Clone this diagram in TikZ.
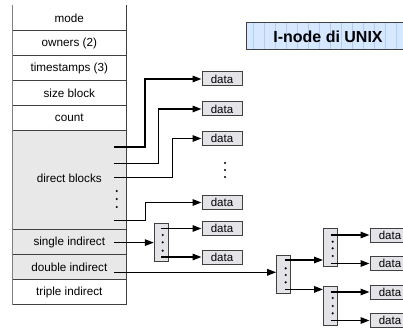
\documentclass[tikz,border=0pt]{standalone}
\usepackage{fontspec}
\setmainfont{Liberation Sans}
\usetikzlibrary{arrows.meta}
\definecolor{cellgray}{HTML}{E8E8E8}
\definecolor{datafill}{HTML}{E4E3E8}
\definecolor{titlefill}{HTML}{D6E8FF}
\definecolor{gridblue}{HTML}{B0CFF2}
\definecolor{edge}{HTML}{404040}
\begin{document}
\begin{tikzpicture}[x=1pt,y=-1pt,
  ptr/.style={line width=1.4pt,-{Triangle[length=9pt,width=6.5pt]}},
  rowline/.style={edge,line width=0.9pt},
  celltext/.style={font=\fontsize{11.7}{13}\selectfont,inner sep=0pt},
  databox/.style={draw=edge,line width=1pt,fill=datafill,minimum width=40pt,minimum height=14pt,inner sep=0pt,font=\fontsize{11.5}{13}\selectfont},
  ibox/.style={draw=edge,line width=1pt,fill=datafill,minimum width=14pt,inner sep=0pt},
  dot/.style={fill=black}]
\useasboundingbox (0,0) rectangle (403,328);
% title
\fill[titlefill] (246.7,22.7) rectangle (410,50);
\begin{scope}
\clip (246.7,22.7) rectangle (410,50);
\draw[gridblue,line width=0.5pt] (246.7,22.7) grid[step=11] (410,50);
\end{scope}
\draw[edge,line width=1pt] (246.7,22.7) rectangle (410,50);
\node[font=\bfseries\fontsize{16}{18}\selectfont,inner sep=0pt] (title) at (328,36.5) {I-node di UNIX};
% table
\fill[cellgray] (12.3,130.5) rectangle (126.3,279.5);
\foreach \yy in {30.5,55.5,80.5,105.5,130.5,229.5,254.5,279.5,304.5}
  \draw[rowline] (12.3,\yy) -- (126.3,\yy);
\draw[gray,line width=0.7pt] (12.3,5) -- (12.3,304.5);
\draw[edge,line width=1.2pt] (126.3,5) -- (126.3,304.5);
\node[celltext] (mode) at (69.3,18) {mode};
\node[celltext] (owners) at (69.3,43) {owners (2)};
\node[celltext] (times) at (69.3,68) {timestamps (3)};
\node[celltext] (size) at (69.3,93) {size block};
\node[celltext] (count) at (69.3,118) {count};
\node[celltext] (direct) at (69.3,178) {direct blocks};
\node[celltext] (single) at (69.3,242) {single indirect};
\node[celltext] (double) at (69.3,267) {double indirect};
\node[celltext] (triple) at (69.3,292) {triple indirect};
\foreach \yy in {191,199,207} \fill[dot] (116.7,\yy) circle (1.2);
% data boxes (direct)
\node[databox] (d1) at (222,79) {data};
\node[databox] (d2) at (222,109) {data};
\node[databox] (d3) at (222,138.5) {data};
\node[databox] (d4) at (222,202.5) {data};
\foreach \yy in {163,170,177} \fill[dot] (225,\yy) circle (1.2);
\coordinate (s1) at (114,147);
\coordinate (s2) at (114,163.3);
\coordinate (s3) at (114,177.3);
\coordinate (s4) at (114,220.7);
\coordinate (s5) at (114,242.6);
\coordinate (s6) at (114,272.3);
\draw[ptr] (s1) -- ++(31,0) |- (d1.west);
\draw[ptr] (s2) -- ++(44.3,0) |- (d2.west);
\draw[ptr] (s3) -- ++(58.7,0) |- (d3.west);
\draw[ptr] (s4) -- ++(31.7,0) |- (d4.west);
% single indirect
\node[ibox,minimum height=38pt] (i1) at (161.3,242.6) {};
\foreach \yy in {235,242.3,250.7} \fill[dot] (162.7,\yy) circle (1.2);
\node[databox] (d5) at (222,228.5) {data};
\node[databox] (d6) at (222,257) {data};
\draw[ptr] (s5) -- (s5 -| i1.west);
\draw[ptr] (d5.west -| i1) -- (d5.west);
\draw[ptr] (d6.west -| i1) -- (d6.west);
% double indirect
\node[ibox,minimum height=38pt] (i2) at (283.7,274.2) {};
\foreach \yy in {268.3,275,282.3} \fill[dot] (285.7,\yy) circle (1.2);
\draw[ptr] (s6) -- (s6 -| i2.west);
\node[ibox,minimum height=38.4pt] (i3) at (330.5,247.5) {};
\node[ibox,minimum height=39pt] (i4) at (330.5,305.5) {};
\foreach \yy in {241.7,248.3,256} \fill[dot] (332.7,\yy) circle (1.2);
\foreach \yy in {298,306,313.3} \fill[dot] (332.7,\yy) circle (1.2);
\coordinate (a1) at (285.2,260);
\coordinate (a2) at (285.2,289.4);
\draw[ptr] (a1) -- (a1 -| i3.west);
\draw[ptr] (a2) -- (a2 -| i4.west);
\node[databox] (d7) at (390,235) {data};
\node[databox] (d8) at (390,263.5) {data};
\node[databox] (d9) at (390,292) {data};
\node[databox] (d10) at (390,320.5) {data};
\draw[ptr] (d7.west -| i3) -- (d7.west);
\draw[ptr] (d8.west -| i3) -- (d8.west);
\draw[ptr] (d9.west -| i4) -- (d9.west);
\draw[ptr] (d10.west -| i4) -- (d10.west);
\end{tikzpicture}
\end{document}
